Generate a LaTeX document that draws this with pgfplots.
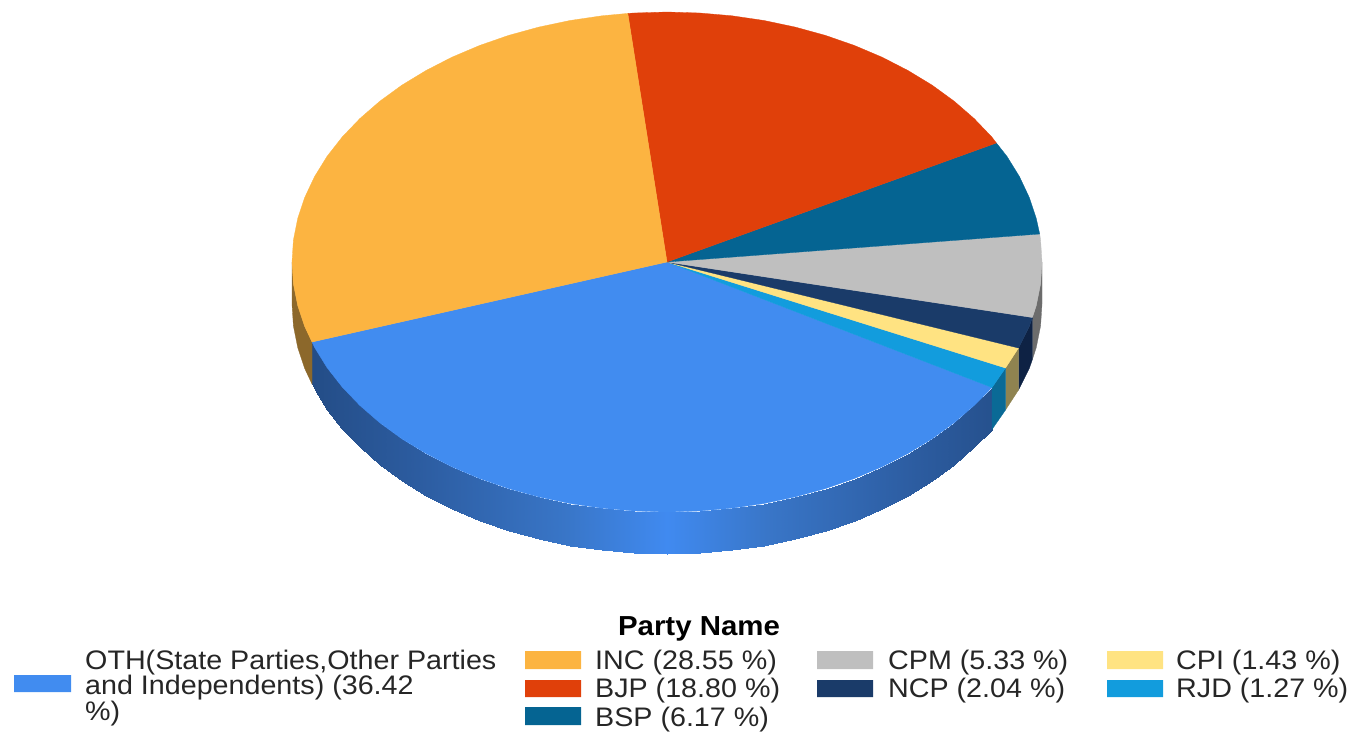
\documentclass[border=0pt]{standalone}
\usepackage{fontspec}
\setmainfont{Liberation Sans}
\usepackage{graphicx}
\usepackage{pgfplots}
\pgfplotsset{compat=1.18}
\definecolor{cOTH}{HTML}{418CF0}
\definecolor{cINC}{HTML}{FCB441}
\definecolor{cBJP}{HTML}{E0400A}
\definecolor{cBSP}{HTML}{056492}
\definecolor{cCPM}{HTML}{BFBFBF}
\definecolor{cNCP}{HTML}{1A3B69}
\definecolor{cCPI}{HTML}{FFE382}
\definecolor{cRJD}{HTML}{129CDD}
\definecolor{wINC}{HTML}{8C682B}
\definecolor{wCPM}{HTML}{6C6C6C}
\definecolor{wNCP}{HTML}{0E2244}
\definecolor{wCPI}{HTML}{8F8350}
\definecolor{wRJD}{HTML}{0A6A96}
\newcommand{\lab}[3]{\node[anchor=base west,inner sep=0pt,text=black!85] at (axis cs:#1,#2) {\scalebox{1.07}[1]{\fontsize{26.8}{28}\selectfont #3}};}
\begin{document}
\begin{tikzpicture}
\begin{axis}[
  scale only axis, width=1358pt, height=729pt,
  xmin=0, xmax=1358, ymin=0, ymax=729, y dir=reverse,
  hide axis, clip=false, no markers,
  colormap={wall}{rgb255(0cm)=(34,74,130); rgb255(5cm)=(44,92,160); rgb255(11cm)=(57,118,200); rgb255(15cm)=(64,138,240); rgb255(19cm)=(57,118,200); rgb255(25cm)=(44,92,160); rgb255(30cm)=(34,74,130)},
  point meta min=292, point meta max=1042]
\path (axis cs:0,0) (axis cs:1358,729);
% side walls
\addplot[surf, shader=interp, point meta=x, mesh/rows=2, mesh/ordering=x varies] coordinates {
(312,342)(314.6,347.5)(327.1,367.7)(342.2,387)(359.8,405.4)(379.7,422.7)(401.8,438.8)(426,453.5)(451.9,466.8)(479.5,478.5)(508.5,488.6)(538.7,496.9)(569.9,503.5)(601.9,508.2)(634.3,511)(667,512)(699.7,511)(732.1,508.2)(764.1,503.5)(795.3,496.9)(825.5,488.6)(854.5,478.5)(882.1,466.8)(908,453.5)(932.2,438.8)(954.3,422.7)(974.2,405.4)(992,387.5)

(312,384)(314.6,389.5)(327.1,409.7)(342.2,429)(359.8,447.4)(379.7,464.7)(401.8,480.8)(426,495.5)(451.9,508.8)(479.5,520.5)(508.5,530.6)(538.7,538.9)(569.9,545.5)(601.9,550.2)(634.3,553)(667,554)(699.7,553)(732.1,550.2)(764.1,545.5)(795.3,538.9)(825.5,530.6)(854.5,520.5)(882.1,508.8)(908,495.5)(932.2,480.8)(954.3,464.7)(974.2,447.4)(992,429.5)};
\addplot[fill=wINC, draw=wINC, line width=.3pt] coordinates {(292,262)(293.4,283.8)(297.7,305.4)(304.8,326.7)(312,342)(312,384)(304.8,368.7)(297.7,347.4)(293.4,325.8)(292,304)(292,262)};
\addplot[fill=wCPM, draw=wCPM, line width=.3pt] coordinates {(1032.4,317.5)(1036.3,305.4)(1040.6,283.8)(1042,262)(1042,304)(1040.6,325.8)(1036.3,347.4)(1032.4,359.5)(1032.4,317.5)};
\addplot[fill=wNCP, draw=wNCP, line width=.3pt] coordinates {(1018.5,348)(1029.2,326.7)(1032.4,317.5)(1032.4,359.5)(1029.2,368.7)(1018.5,390)(1018.5,348)};
\addplot[fill=wCPI, draw=wCPI, line width=.3pt] coordinates {(1005.5,368)(1018.5,348)(1018.5,390)(1005.5,410)(1005.5,368)};
\addplot[fill=wRJD, draw=wRJD, line width=.3pt] coordinates {(992,387.5)(1005.5,368)(1005.5,410)(992,429.5)(992,387.5)};
% top slices
\addplot[fill=cOTH, draw=cOTH, line width=.3pt] coordinates {(667,262)(312,342)(314.6,347.5)(327.1,367.7)(342.2,387)(359.8,405.4)(379.7,422.7)(401.8,438.8)(426,453.5)(451.9,466.8)(479.5,478.5)(508.5,488.6)(538.7,496.9)(569.9,503.5)(601.9,508.2)(634.3,511)(667,512)(699.7,511)(732.1,508.2)(764.1,503.5)(795.3,496.9)(825.5,488.6)(854.5,478.5)(882.1,466.8)(908,453.5)(932.2,438.8)(954.3,422.7)(974.2,405.4)(992,387.5)(667,262)};
\addplot[fill=cRJD, draw=cRJD, line width=.3pt] coordinates {(667,262)(992,387.5)(1005.5,368)(667,262)};
\addplot[fill=cCPI, draw=cCPI, line width=.3pt] coordinates {(667,262)(1005.5,368)(1018.5,348)(667,262)};
\addplot[fill=cNCP, draw=cNCP, line width=.3pt] coordinates {(667,262)(1018.5,348)(1029.2,326.7)(1032.4,317.5)(667,262)};
\addplot[fill=cCPM, draw=cCPM, line width=.3pt] coordinates {(667,262)(1032.4,317.5)(1036.3,305.4)(1040.6,283.8)(1042,262)(1040.6,240.2)(1039.7,234)(667,262)};
\addplot[fill=cBSP, draw=cBSP, line width=.3pt] coordinates {(667,262)(1039.7,234)(1036.3,218.6)(1029.2,197.3)(1019.4,176.5)(1006.9,156.3)(996.4,143)(667,262)};
\addplot[fill=cBJP, draw=cBJP, line width=.3pt] coordinates {(667,262)(996.4,143)(991.8,137)(974.2,118.6)(954.3,101.3)(932.2,85.2)(908,70.5)(882.1,57.2)(854.5,45.5)(825.5,35.4)(795.3,27.1)(764.1,20.5)(732.1,15.8)(699.7,13)(667,12)(634.3,13)(627.8,13.4)(667,262)};
\addplot[fill=cINC, draw=cINC, line width=.3pt] coordinates {(667,262)(627.8,13.4)(601.9,15.8)(569.9,20.5)(538.7,27.1)(508.5,35.4)(479.5,45.5)(451.9,57.2)(426,70.5)(401.8,85.2)(379.7,101.3)(359.8,118.6)(342.2,137)(327.1,156.3)(314.6,176.5)(304.8,197.3)(297.7,218.6)(293.4,240.2)(292,262)(293.4,283.8)(297.7,305.4)(304.8,326.7)(312,342)(667,262)};
% legend swatches
\addplot[fill=cOTH, draw=none] coordinates {(14,675)(71,675)(71,692)(14,692)(14,675)};
\addplot[fill=cINC, draw=none] coordinates {(525,651)(581,651)(581,669)(525,669)(525,651)};
\addplot[fill=cBJP, draw=none] coordinates {(525,680)(581,680)(581,697)(525,697)(525,680)};
\addplot[fill=cBSP, draw=none] coordinates {(525,707)(581,707)(581,725)(525,725)(525,707)};
\addplot[fill=cCPM, draw=none] coordinates {(817,651)(873,651)(873,669)(817,669)(817,651)};
\addplot[fill=cNCP, draw=none] coordinates {(817,680)(873,680)(873,697)(817,697)(817,680)};
\addplot[fill=cCPI, draw=none] coordinates {(1107,651)(1163,651)(1163,669)(1107,669)(1107,651)};
\addplot[fill=cRJD, draw=none] coordinates {(1107,680)(1163,680)(1163,697)(1107,697)(1107,680)};
% legend text
\node[anchor=base,inner sep=0pt] at (axis cs:699,635) {\scalebox{1.07}[1]{\fontsize{27.5}{29}\selectfont\bfseries Party Name}};
\lab{85}{669}{OTH(State Parties,Other Parties}
\lab{85}{694.5}{and Independents) (36.42}
\lab{85}{720}{\%)}
\lab{595}{669}{INC (28.55 \%)}
\lab{595}{697}{BJP (18.80 \%)}
\lab{595}{726}{BSP (6.17 \%)}
\lab{888}{669}{CPM (5.33 \%)}
\lab{888}{697}{NCP (2.04 \%)}
\lab{1176}{669}{CPI (1.43 \%)}
\lab{1176}{697}{RJD (1.27 \%)}
\end{axis}
\end{tikzpicture}
\end{document}
